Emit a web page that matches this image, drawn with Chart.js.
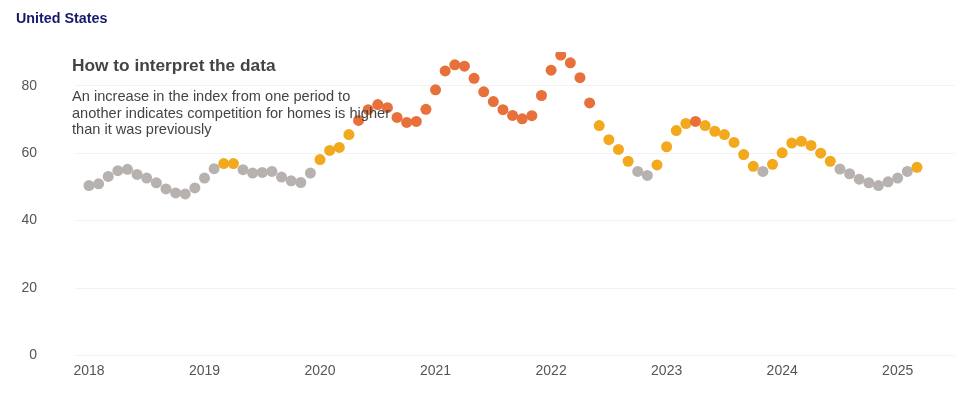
<!DOCTYPE html>
<html>
<head>
<meta charset="utf-8">
<script src="https://cdn.jsdelivr.net/npm/chart.js@4"></script>
<style>
  html, body { margin: 0; padding: 0; background: #ffffff; }
  #wrap { position: relative; width: 960px; height: 398px; }
</style>
</head>
<body>
<div id="wrap"><canvas id="c" width="960" height="398"></canvas></div>
<script>
// ---- data ----
const title = "United States";
const noteTitle = "How to interpret the data";
const noteLines = [
  "An increase in the index from one period to",
  "another indicates competition for homes is higher",
  "than it was previously"
];
// monthly index, Jan 2018 .. Mar 2025
const indexValues = [
  50.4, 50.9, 53.1, 54.8, 55.2, 53.7, 52.6, 51.2, 49.4, 48.2, 47.9, 49.7,
  52.6, 55.4, 56.9, 56.9, 55.1, 54.1, 54.3, 54.6, 52.9, 51.8, 51.3, 54.1,
  58.1, 60.8, 61.7, 65.5, 69.7, 72.9, 74.4, 73.5, 70.6, 69.1, 69.4, 73.0,
  78.8, 84.4, 86.2, 85.8, 82.2, 78.2, 75.3, 72.9, 71.2, 70.2, 71.1, 77.1,
  84.6, 89.1, 86.8, 82.4, 74.9, 68.2, 64.0, 61.1, 57.6, 54.6, 53.4, 56.5,
  61.9, 66.7, 68.8, 69.4, 68.2, 66.5, 65.5, 63.2, 59.6, 56.1, 54.6, 56.7,
  60.1, 63.0, 63.5, 62.3, 60.0, 57.6, 55.3, 53.9, 52.3, 51.2, 50.4, 51.5,
  52.6, 54.6, 55.8
];
const yearLabels = ["2018", "2019", "2020", "2021", "2022", "2023", "2024", "2025"];
const yTicks = [0, 20, 40, 60, 80];
const lowThreshold = 55.5;
const highThreshold = 69;

// ---- styles ----
const COL_LOW = "#b7b2b0";
const COL_MID = "#f2a91e";
const COL_HIGH = "#e8703a";
const FONT = "'Liberation Sans', Arial, sans-serif";

const points = indexValues.map((v, i) => ({ x: i, y: v }));

const overlay = {
  id: "overlay",
  afterDatasetsDraw(chart) {
    const ctx = chart.ctx;
    ctx.save();
    ctx.textBaseline = "middle";
    ctx.textAlign = "left";
    ctx.fillStyle = "#14196b";
    ctx.font = "bold 14.3px " + FONT;
    ctx.fillText(title, 16, 19);
    ctx.fillStyle = "#444444";
    ctx.font = "bold 17.3px " + FONT;
    ctx.fillText(noteTitle, 72, 66);
    ctx.font = "14.6px " + FONT;
    noteLines.forEach((t, k) => ctx.fillText(t, 72, 97 + k * 16.5));
    ctx.restore();
  }
};

new Chart(document.getElementById("c"), {
  type: "scatter",
  data: {
    datasets: [{
      data: points,
      showLine: false,
      pointRadius: 5.5,
      pointHoverRadius: 5.5,
      borderWidth: 0,
      pointBackgroundColor: (ctx) => {
        const v = ctx.raw ? ctx.raw.y : 0;
        return v < lowThreshold ? COL_LOW : (v < highThreshold ? COL_MID : COL_HIGH);
      }
    }]
  },
  options: {
    responsive: false,
    animation: false,
    events: [],
    layout: { padding: { left: 0, right: 5, top: 52, bottom: 0 } },
    plugins: { legend: { display: false }, tooltip: { enabled: false } },
    scales: {
      x: {
        type: "linear",
        min: -1.45,
        max: 89.9,
        grid: { display: false, drawTicks: false },
        border: { display: false },
        afterBuildTicks: (s) => { s.ticks = yearLabels.map((_, k) => ({ value: k * 12 })); },
        afterFit: (s) => { s.height = 42.5; },
        ticks: {
          padding: 7.1,
          maxRotation: 0,
          autoSkip: false,
          color: "#555555",
          font: { family: FONT, size: 14 },
          callback: (v) => yearLabels[Math.round(v / 12)]
        }
      },
      y: {
        min: 0,
        max: 90,
        grid: { color: "#f2f2f2", drawTicks: false },
        border: { display: false },
        afterBuildTicks: (s) => { s.ticks = yTicks.map((v) => ({ value: v })); },
        afterFit: (s) => { s.width = 75; s.paddingTop = 0; s.paddingBottom = 0; },
        ticks: {
          padding: 38,
          color: "#555555",
          font: { family: FONT, size: 14 }
        }
      }
    }
  },
  plugins: [overlay]
});
</script>
</body>
</html>
